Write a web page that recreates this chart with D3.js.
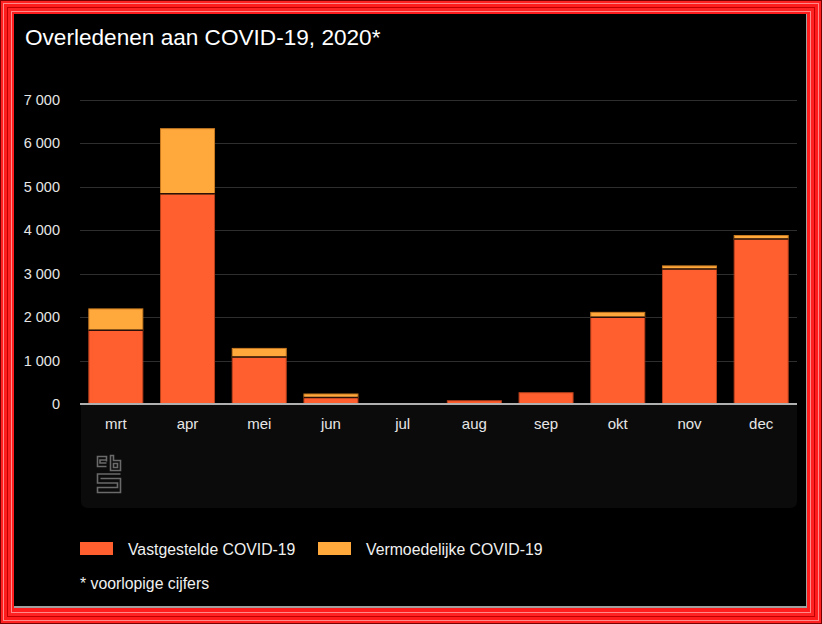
<!DOCTYPE html>
<html><head><meta charset="utf-8">
<script src="https://cdn.jsdelivr.net/npm/d3@7"></script>
<style>
html,body{margin:0;padding:0;background:#000;}
svg{display:block;font-family:"Liberation Sans",Arial,sans-serif;}
</style></head>
<body>
<svg id="c" width="822" height="624"></svg>
<script>
const months = ["mrt","apr","mei","jun","jul","aug","sep","okt","nov","dec"];
const vastgesteld = [1700, 4840, 1080, 150, 7, 75, 260, 2000, 3110, 3800];
const vermoedelijk = [490, 1500, 200, 80, 0, 0, 0, 110, 70, 80];
const yTicks = [0,1000,2000,3000,4000,5000,6000,7000];
const seriesNames = ["Vastgestelde COVID-19","Vermoedelijke COVID-19"];
const colors = ["#FF5F2E","#FFA93D"];
const strokes = ["#b8401c","#c87a20"];

const svg = d3.select("#c");
// frame
svg.append("rect").attr("x",0).attr("y",0).attr("width",822).attr("height",624).attr("fill","#7a0000");
const layers = [
  [1,"#ff2222"],[3,"#ff8a8a"],[4,"#ff1c1c"],[7,"#c00000"],[8,"#ff2222"],[11,"#ff8a8a"],[12,"#ff1c1c"]
];
layers.forEach(([i,c])=>{
  svg.append("rect").attr("x",i).attr("y",i).attr("width",822-2*i).attr("height",624-2*i).attr("fill",c);
});
svg.append("rect").attr("x",14).attr("y",14).attr("width",793).attr("height",594).attr("fill","#a0a0a0");
svg.append("rect").attr("x",14).attr("y",14).attr("width",792).attr("height",592).attr("fill","#000");

// title
svg.append("text").attr("x",25).attr("y",45).attr("fill","#fff")
  .attr("font-size",22.6).text("Overledenen aan COVID-19, 2020*");

const x = d3.scaleBand().domain(months).range([80,797]).paddingInner(0.233).paddingOuter(0.116);
const y = d3.scaleLinear().domain([0,7000]).range([404,100]);

// panel under axis
svg.append("path").attr("fill","#0b0b0b")
  .attr("d", (()=>{const x0=81,x1=797,y0=405,y1=508,r=7;
    return `M${x0},${y0}H${x1}V${y1-r}Q${x1},${y1} ${x1-r},${y1}H${x0+r}Q${x0},${y1} ${x0},${y1-r}Z`;})());

// grid
svg.append("g").selectAll("line").data(yTicks.filter(d=>d>0)).join("line")
  .attr("x1",80).attr("x2",797).attr("y1",d=>Math.round(y(d))+0.5).attr("y2",d=>Math.round(y(d))+0.5)
  .attr("stroke","#2e2e2e").attr("stroke-width",1);

// y labels
const fmt = d => d3.format(",")(d).replace(/,/g," ");
svg.append("g").selectAll("text").data(yTicks).join("text")
  .attr("x",60).attr("y",d=>y(d)+5).attr("text-anchor","end")
  .attr("fill","#e6e6e6").attr("font-size",14.5).text(fmt);

// stacked bars
const data = months.map((m,i)=>({month:m, v0:vastgesteld[i], v1:vermoedelijk[i]}));
const stack = d3.stack().keys(["v0","v1"])(data);
svg.append("g").selectAll("g").data(stack).join("g")
  .attr("fill",(d,i)=>colors[i]).attr("stroke",(d,i)=>strokes[i])
  .selectAll("rect").data(d=>d.filter(s=>s[1]-s[0]>0)).join("rect")
  .attr("x",d=>x(d.data.month)+0.5).attr("width",x.bandwidth()-1)
  .attr("y",d=>y(d[1])).attr("height",d=>Math.max(0.5,y(d[0])-y(d[1])))
  .attr("stroke-width",1);
// separators between segments
svg.append("g").selectAll("line").data(data.filter(d=>d.v1>0)).join("line")
  .attr("x1",d=>x(d.month)).attr("x2",d=>x(d.month)+x.bandwidth())
  .attr("y1",d=>y(d.v0)).attr("y2",d=>y(d.v0))
  .attr("stroke","#2a1008").attr("stroke-width",1.5);

// baseline
svg.append("line").attr("x1",80).attr("x2",797).attr("y1",404).attr("y2",404)
  .attr("stroke","#b0b0b0").attr("stroke-width",2);

// x labels
svg.append("g").selectAll("text").data(months).join("text")
  .attr("x",d=>x(d)+x.bandwidth()/2).attr("y",429).attr("text-anchor","middle")
  .attr("fill","#e6e6e6").attr("font-size",15).text(d=>d);

// cbs logo
const lg = svg.append("g").attr("fill","none").attr("stroke","#6a6a6a").attr("stroke-width",1.6);
lg.append("path").attr("d","M106.5,461.5 V456.5 H97.5 V466.5 H106.5 M106.5,463 H100 V460 H106.5");
lg.append("path").attr("d","M110.5,455.5 V470.5 H120.5 V460.5 H113.5 V455.5 Z M113.5,463.5 H117.5 V467.5 H113.5 Z");
lg.append("path").attr("d","M120.5,474 H97.5 V483 H117.5 V487.5 H97.5 V492.5 H120.5 V478.5 H100.5");

// legend
const leg = svg.append("g");
const lx = [80,318];
seriesNames.forEach((n,i)=>{
  leg.append("rect").attr("x",lx[i]).attr("y",542).attr("width",33).attr("height",13).attr("fill",colors[i]);
  leg.append("text").attr("x",lx[i]+48).attr("y",554.5).attr("fill","#f0f0f0").attr("font-size",15.8).text(n);
});
svg.append("text").attr("x",80).attr("y",589).attr("fill","#f0f0f0").attr("font-size",15.8).text("* voorlopige cijfers");
</script>
</body></html>
